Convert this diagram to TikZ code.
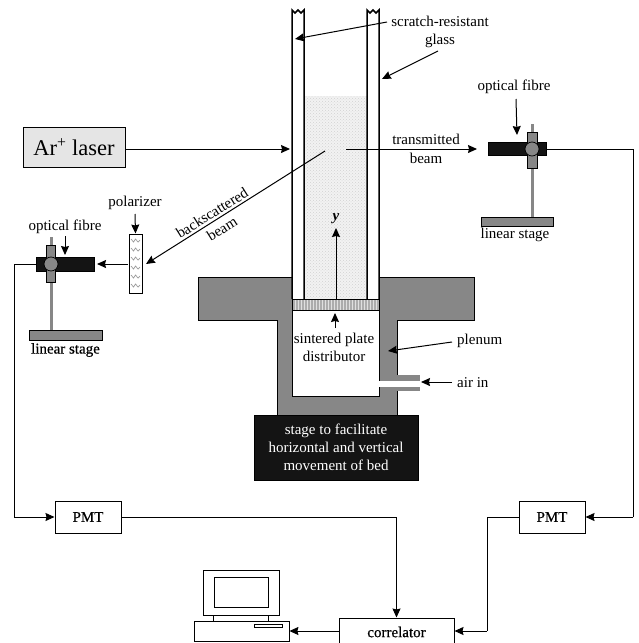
\documentclass[tikz,border=0pt]{standalone}
\usepackage{fontspec}
\setmainfont{Liberation Serif}
\newfontfamily\heavyfont[RawFeature={embolden=0.6}]{Liberation Serif}
\usetikzlibrary{arrows.meta, patterns, positioning}

\definecolor{bodygray}{gray}{0.53}
\definecolor{lasergray}{gray}{0.9}
\definecolor{barblack}{gray}{0.08}

\begin{document}
\begin{tikzpicture}[
        x=1pt, y=-1pt,
        label text/.style={align=center, inner sep=0pt, font=\fontsize{15}{18.5}\selectfont},
        small box/.style={draw, line width=1pt, fill=white, inner sep=0pt, font=\fontsize{15}{18}\heavyfont},
        part/.style={draw=black, line width=0.7pt, fill=bodygray, inner sep=0pt},
        arrow/.style={-{Stealth[length=9pt,width=8pt,inset=1pt]}, line width=1pt},
        wire/.style={line width=1pt},
        rod/.style={line width=3pt, bodygray},
        wall/.style={line width=1.5pt}
    ]
        \useasboundingbox (0,0) rectangle (638,643);

        % bed and plenum
        \fill[pattern=crosshatch dots, pattern color=gray!35, preaction={fill=gray!10}] (304,96) rectangle (367,299);
        \draw[part] (198,277) -- (292,277) -- (292,396) -- (379,396) -- (379,277) -- (474,277) -- (474,320) -- (397,320) -- (397,415) -- (277,415) -- (277,320) -- (198,320) -- cycle;
        \fill[bodygray] (397,375) rectangle (420,391);
        \fill[white] (379,381) rectangle (420,386.5);
        \draw[wall] (292,299) -- (292,10) -- (295,13) -- (298,10) -- (301,13) -- (304,10) -- (304,299);
        \draw[wall] (367,299) -- (367,10) -- (370,13) -- (373,10) -- (376,13) -- (379,10) -- (379,299);

        % distributor
        \node[draw, line width=1pt, fill=gray!25, minimum width=87pt, minimum height=11pt, inner sep=0pt] (plate) at (335.5,304.5) {};
        \foreach \x in {294,297,...,378}
            \draw[gray!65, line width=1.3pt] (\x,300) -- (\x,309.5);

        \node[draw=black, line width=0.7pt, fill=barblack, minimum width=164pt, minimum height=65pt, inner sep=0pt, align=center, text=white, font=\fontsize{15}{18}\selectfont] (movestage) at (336,447.5) {stage to facilitate\\horizontal and vertical\\movement of bed};

        \node[draw, line width=1pt, fill=lasergray, minimum width=102pt, minimum height=40pt, inner sep=0pt, font=\fontsize{22.5}{24}\selectfont] (laser) at (74,147) {Ar\textsuperscript{+} laser};

        % right fibre
        \draw[rod] (532,124) -- (532,217);
        \node[part, minimum width=72pt, minimum height=9pt] (stageR) at (517,221.5) {};
        \node[part, fill=barblack, minimum width=58pt, minimum height=13pt] (barR) at (517,149) {};
        \node[part, minimum width=10pt, minimum height=36pt] (armR) at (532,150) {};
        \node[part, circle, minimum size=14pt] (knobR) at (532,149) {};
        \node[label text] (fibreR) at (514,87) {optical fibre};
        \node[label text] (linearR) at (515,235) {linear stage};

        % left fibre
        \draw[rod] (51,237) -- (51,330);
        \node[part, minimum width=73pt, minimum height=10pt] (stageL) at (65.5,335) {};
        \node[part, fill=barblack, minimum width=58pt, minimum height=14pt] (barL) at (65,264) {};
        \node[part, minimum width=9pt, minimum height=37pt] (armL) at (50.5,263.5) {};
        \node[part, circle, minimum size=14pt] (knobL) at (51,264) {};
        \node[label text] (fibreL) at (65,227) {optical fibre};
        \node[label text, font=\fontsize{15}{18}\heavyfont] (linearL) at (65.5,350) {linear stage};

        % polarizer
        \node[draw, line width=1pt, fill=white, minimum width=13pt, minimum height=59pt, inner sep=0pt] (polar) at (135.5,263.5) {};
        \foreach \y in {239,248,...,285}
            \draw[gray!80, line width=0.7pt] (131,\y) -- (133.5,\y+3) -- (135.5,\y) -- (138,\y+3) -- (140,\y+1);
        \node[label text] (polarlabel) at (135,203) {polarizer};

        % boxes
        \node[small box, minimum width=66pt, minimum height=32pt] (pmtL) at (88,517) {PMT};
        \node[small box, minimum width=66pt, minimum height=32pt] (pmtR) at (552,517) {PMT};
        \node[small box, minimum width=115pt, minimum height=28pt] (correlator) at (396.5,632) {correlator};

        % computer
        \node[draw, line width=0.8pt, minimum width=76pt, minimum height=45pt, inner sep=0pt] (monitor) at (241,592.5) {};
        \node[draw, line width=0.8pt, minimum width=54pt, minimum height=30pt, inner sep=0pt] (screen) at (241,592) {};
        \node[draw, line width=0.8pt, minimum width=95pt, minimum height=20.5pt, inner sep=0pt] (base) at (241.5,631.25) {};
        \node[draw, line width=0.6pt, minimum width=28pt, minimum height=3pt, inner sep=0pt] (slot) at (268,625.5) {};
        \draw[line width=1.2pt] (monitor.south west) ++(11,0) -- ++(0,6);
        \draw[line width=1.2pt] (monitor.south east) ++(-11,0) -- ++(0,6);

        % labels
        \node[label text] (glass) at (440,32) {scratch-resistant\\glass};
        \node[label text] (transbeam) at (426,149) {transmitted\\beam};
        \node[label text] (sintered) at (334,347.5) {sintered plate\\distributor};
        \node[label text, anchor=west] (plenum) at (457,341) {plenum};
        \node[label text, anchor=west] (airin) at (457,382.5) {air in};
        \node[label text, font=\fontsize{15}{18}\selectfont\bfseries\itshape] (ylabel) at (336,219) {y};
        \node[label text, rotate=32] (backlabel) at (212,213) {backscattered};
        \node[label text, rotate=32] (beamlabel) at (222,229) {beam};

        \coordinate (wallL) at (295,39);
        \coordinate (wallR) at (382,79);
        \coordinate (glassstart) at (387,22);
        \coordinate (glassend) at (438,51);
        \coordinate (laserin) at (290,149);
        \coordinate (transstart) at (346,149);
        \coordinate (transend) at (477,149);
        \coordinate (backstart) at (325,151);
        \coordinate (backend) at (146,264);
        \coordinate (polarstart) at (128,264);
        \coordinate (polarend) at (97,264);
        \coordinate (plenumwall) at (388,351);
        \coordinate (slotend) at (421,382);
        \coordinate (platetip) at (335,313);
        \coordinate (ytip) at (336,228);

        % connectors
        \draw[arrow] (glassstart) -- (wallL);
        \draw[arrow] (glassend) -- (wallR);
        \draw[arrow] (laser.east |- laserin) -- (laserin);
        \draw[arrow] (transstart) -- (transend);
        \draw[arrow] (backstart) -- (backend);
        \draw[arrow] (polarstart) -- (polarend);
        \draw[arrow] (135,214) -- (polar.north);
        \draw[arrow] (65,236) -- (65,255);
        \draw[arrow] (516,99) -- (517,135);
        \draw[arrow] (335,328) -- (platetip);
        \draw[arrow] (ytip |- plate.north) -- (ytip);
        \draw[arrow] (452,342) -- (plenumwall);
        \draw[arrow] (452,382) -- (slotend);

        \draw[wire] (barL.west) -- (14,264) -- (14,517);
        \draw[arrow, wire] (14,517) -- (pmtL.west);
        \draw[wire] (pmtL.east) -- (396.5,517);
        \draw[arrow, wire] (396.5,517) -- (correlator.north);
        \draw[wire] (barR.east) -- (633,149) -- (633,517);
        \draw[arrow, wire] (633,517) -- (pmtR.east);
        \draw[wire] (pmtR.west) -- (487,517) -- (487,631);
        \draw[arrow, wire] (487,631) -- (correlator.east |- 0,631);
        \draw[arrow, wire] (correlator.west |- 0,631) -- (base.east |- 0,631);
    \end{tikzpicture}
\end{document}
